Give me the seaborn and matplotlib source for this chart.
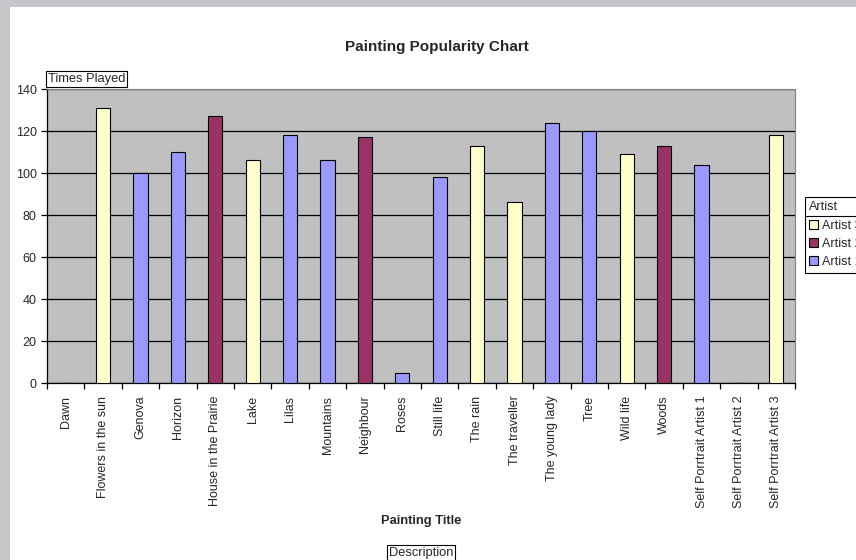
import matplotlib
matplotlib.use("Agg")
import matplotlib.pyplot as plt
import seaborn as sns
import pandas as pd
from matplotlib.patches import Patch, Rectangle
from matplotlib.lines import Line2D

# data
titles = ["Dawn", "Flowers in the sun", "Genova", "Horizon", "House in the Prairie",
          "Lake", "Lilas", "Mountains", "Neighbour", "Roses", "Still life", "The rain",
          "The traveller", "The young lady", "Tree", "Wild life", "Woods",
          "Self Porrtrait Artist 1", "Self Porrtrait Artist 2", "Self Porrtrait Artist 3"]
times_played = [0, 131, 100, 110, 127, 106, 118, 106, 117, 5, 98, 113,
                86, 124, 120, 109, 113, 104, 0, 118]
artists = ["Artist 2", "Artist 3", "Artist 1", "Artist 1", "Artist 2", "Artist 3",
           "Artist 1", "Artist 1", "Artist 2", "Artist 1", "Artist 1", "Artist 3",
           "Artist 3", "Artist 1", "Artist 1", "Artist 3", "Artist 2", "Artist 1",
           "Artist 2", "Artist 3"]
artist_order = ["Artist 3", "Artist 2", "Artist 1"]
colors = {"Artist 3": "#FFFFCC", "Artist 2": "#993366", "Artist 1": "#9999FF"}

df = pd.DataFrame({"title": titles, "played": times_played, "artist": artists})

sns.set_style("white", {"xtick.bottom": True, "ytick.left": True})
plt.rcParams["font.family"] = ["Liberation Sans", "DejaVu Sans"]

W, H = 856, 560
fig = plt.figure(figsize=(W / 100, H / 100), dpi=100)
fig.patch.set_facecolor("#c6c6ca")
fig.patches.append(Rectangle((10 / W, 0), 1, 1 - 7 / H, transform=fig.transFigure,
                             facecolor="white", edgecolor="none", zorder=-5))

ax = fig.add_axes([47 / W, 1 - 383 / H, 748 / W, 294 / H])
ax.set_facecolor("#c0c0c0")
sns.barplot(data=df, x="title", y="played", hue="artist", hue_order=artist_order,
            palette=colors, saturation=1, dodge=False, width=0.38, edgecolor="black",
            linewidth=0.8, legend=False, ax=ax, zorder=3)

ax.set_ylim(0, 140)
ax.set_xlim(-0.5, len(titles) - 0.5)
ax.set_yticks(range(0, 141, 20))
ax.yaxis.grid(True, color="black", linewidth=0.9)
ax.set_axisbelow(True)
for s in ["top", "right"]:
    ax.spines[s].set_color("#808080")
    ax.spines[s].set_linewidth(0.8)
for s in ["left", "bottom"]:
    ax.spines[s].set_color("black")
    ax.spines[s].set_linewidth(0.9)

ax.set_xticks(range(len(titles)))
ax.set_xticklabels(titles, rotation=90, fontsize=9)
ax.set_xticks([i - 0.5 for i in range(len(titles) + 1)], minor=True)
ax.tick_params(axis="x", which="major", length=0, pad=9)
ax.tick_params(axis="x", which="minor", bottom=True, length=4, width=0.9, color="black", direction="out")
ax.tick_params(axis="y", length=4, width=0.9, color="black", direction="out", labelsize=9, left=True)
ax.set_xlabel("")
ax.set_ylabel("")

# titles and boxed labels
fig.text(437 / W, 1 - 47 / H, "Painting Popularity Chart", ha="center", va="center",
         fontsize=11, fontweight="bold")
fig.text(421 / W, 1 - 521 / H, "Painting Title", ha="center", va="center",
         fontsize=9.3, fontweight="bold")
box = dict(boxstyle="square,pad=0.12", facecolor="white", edgecolor="black", linewidth=0.8)
fig.text(48 / W, 1 - 79 / H, "Times Played", ha="left", va="center", fontsize=9.3, bbox=box)
fig.text(421 / W, 1 - 553 / H, "Description", ha="center", va="center", fontsize=9.3, bbox=box)

# legend on the right, cut by the edge
handles = [Patch(facecolor=colors[a], edgecolor="black", linewidth=0.8) for a in artist_order]
leg = fig.legend(handles, artist_order, title="Artist", loc="upper left",
                 bbox_to_anchor=(805 / W, 1 - 197 / H), fontsize=9, title_fontsize=9,
                 frameon=True, fancybox=False, edgecolor="black", framealpha=1,
                 handlelength=0.7, handleheight=0.7, handletextpad=0.3,
                 borderpad=0.35, labelspacing=0.5, borderaxespad=0, alignment="left")
leg.get_frame().set_linewidth(0.8)
fig.lines.append(Line2D([805 / W, 1], [1 - 216 / H, 1 - 216 / H], transform=fig.transFigure,
                        color="black", linewidth=0.8, zorder=20))

fig.savefig("out.png", dpi=100, facecolor=fig.get_facecolor())
